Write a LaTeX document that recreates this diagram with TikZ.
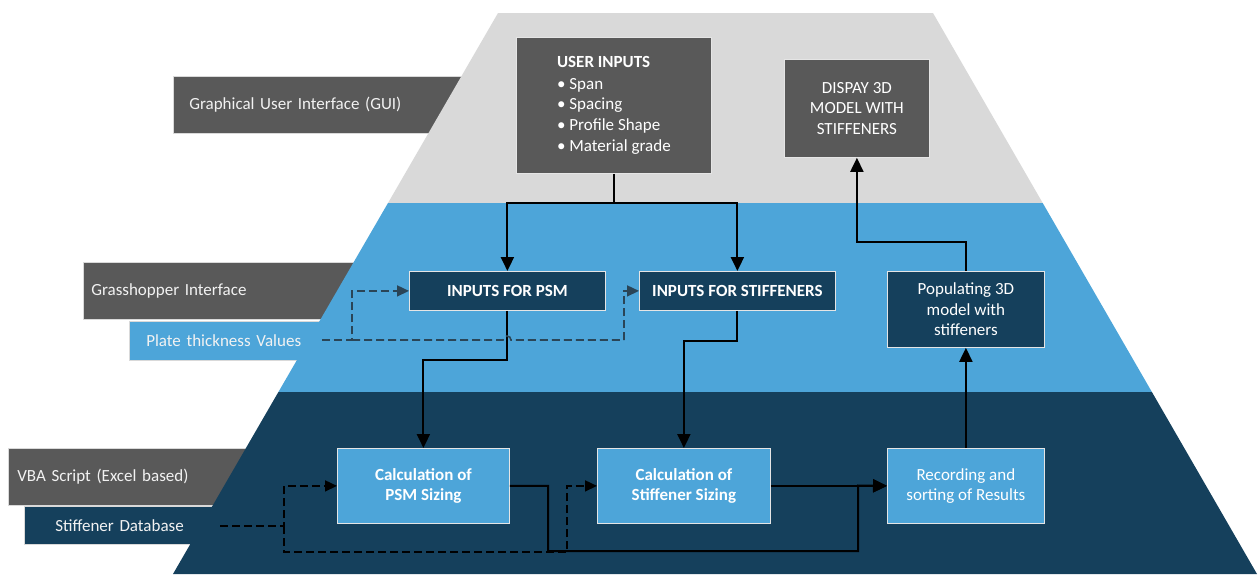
\documentclass[tikz,border=0pt]{standalone}
\usepackage{fontspec}
\setmainfont{Carlito}
\usetikzlibrary{arrows.meta}
\definecolor{bandgray}{HTML}{D9D9D9}
\definecolor{boxgray}{HTML}{595959}
\definecolor{lblue}{HTML}{4DA5D9}
\definecolor{dblue}{HTML}{15405C}
\definecolor{dashblue}{HTML}{2A4557}
\tikzset{
  lbl/.style={anchor=north west, inner ysep=0pt, align=left, text=white!95!black, draw=white!85!black, line width=0.6pt, font=\fontsize{17}{20.7}\selectfont},
  fbox/.style={anchor=north west, inner sep=0pt, align=center, text=white, draw=white!80!gray, line width=0.8pt, font=\fontsize{17}{20.7}\selectfont},
  conn/.style={line width=2pt, -{Triangle[length=14pt,width=13pt]}},
  dline/.style={line width=1.6pt, dash pattern=on 8pt off 4pt, black},
  dconn/.style={dline, -{Triangle[length=12pt,width=11pt]}},
}
\begin{document}
\begin{tikzpicture}[x=1pt,y=-1pt]
\useasboundingbox (0,0) rectangle (1258,574);
% side labels (under the pyramid)
\node[lbl, fill=boxgray, minimum width=307, minimum height=57, inner xsep=16, text width=275] (gui) at (173,76) {Graphical User Interface (GUI)};
\node[lbl, fill=boxgray, minimum width=297, minimum height=57, inner xsep=8, text width=281] (gh) at (83,262) {Grasshopper Interface};
\node[lbl, fill=lblue, minimum width=221, minimum height=39, inner xsep=17, text width=187] (plate) at (129,321) {Plate thickness Values};
\node[lbl, fill=boxgray, minimum width=292, minimum height=57, inner xsep=9, text width=274] (vba) at (8,448) {VBA Script (Excel based)};
\node[lbl, fill=dblue, minimum width=276, minimum height=38, inner xsep=31, text width=214] (sdb) at (24,506) {Stiffener Database};
% pyramid bands
\fill[bandgray] (498,13) -- (933,13) -- (1042.7,203) -- (388,203) -- cycle;
\fill[lblue] (388,203) -- (1042.7,203) -- (1151.9,392) -- (278.4,392) -- cycle;
\fill[dblue] (278.4,392) -- (1151.9,392) -- (1257,574) -- (173,574) -- cycle;
% boxes
\node[fbox, fill=boxgray, minimum width=195, minimum height=136, align=left] (ui) at (516,37)
  {\textbf{USER INPUTS}\\[0.5pt]• Span\\• Spacing\\• Profile Shape\\• Material grade};
\node[fbox, fill=boxgray, minimum width=145, minimum height=98] (disp) at (784,59)
  {DISPAY 3D\\MODEL WITH\\STIFFENERS};
\node[fbox, fill=dblue, minimum width=196, minimum height=39, font=\fontsize{17}{20.7}\selectfont\bfseries] (psm) at (409,271) {INPUTS FOR PSM};
\node[fbox, fill=dblue, minimum width=196, minimum height=39, font=\fontsize{17}{20.7}\selectfont\bfseries] (stf) at (639,271) {INPUTS FOR STIFFENERS};
\node[fbox, fill=dblue, minimum width=157, minimum height=76] (pop) at (887,271) {Populating 3D\\model with\\stiffeners};
\node[fbox, fill=lblue, minimum width=172, minimum height=75, font=\fontsize{17}{20.7}\selectfont\bfseries] (cpsm) at (337,448) {Calculation of\\PSM Sizing};
\node[fbox, fill=lblue, minimum width=173, minimum height=75, font=\fontsize{17}{20.7}\selectfont\bfseries] (cstf) at (597,448) {Calculation of\\Stiffener Sizing};
\node[fbox, fill=lblue, minimum width=157, minimum height=75] (rec) at (887,448) {Recording and\\sorting of Results};
% solid connectors
\coordinate (j1) at (ui.south |- 0,203);
\draw[line width=2pt] (ui.south) -- (j1);
\draw[conn] (j1) -| (psm.north);
\draw[conn] (j1) -| (stf.north);
\draw[conn] (pop.north) -- ++(0,-29) -| (disp.south);
\draw[conn] (psm.south) -- ++(0,49) -| (cpsm.north);
\draw[conn] (stf.south) -- ++(0,30) -| (cstf.north);
\draw[conn] (rec.north) -- (pop.south);
\coordinate (b1) at (548,551);
\draw[conn] (cpsm.east) -| (b1) -| (858,485.5) -- (rec.west);
\draw[conn] (cstf.east) -- (rec.west);
% dashed connectors from plate thickness
\coordinate (pt) at (322,340);
\coordinate (pj1) at (352,340);
\coordinate (pj2) at (624,340);
\draw[dconn, dashblue] (pt) -- (pj1) |- (psm.west);
\draw[dline, dashblue] (pj1) -- (503,340) arc[start angle=180,end angle=360,radius=4] -- (pj2);
\draw[dconn, dashblue] (pj2) |- (stf.west);
% dashed connectors from stiffener database
\coordinate (sd) at (220,526);
\coordinate (sj) at (284,526);
\draw[dconn] (sd) -- (sj) |- (cpsm.west);
\draw[dconn] (sj) -- (284,552) -- (567,552) |- (cstf.west);
\end{tikzpicture}
\end{document}
